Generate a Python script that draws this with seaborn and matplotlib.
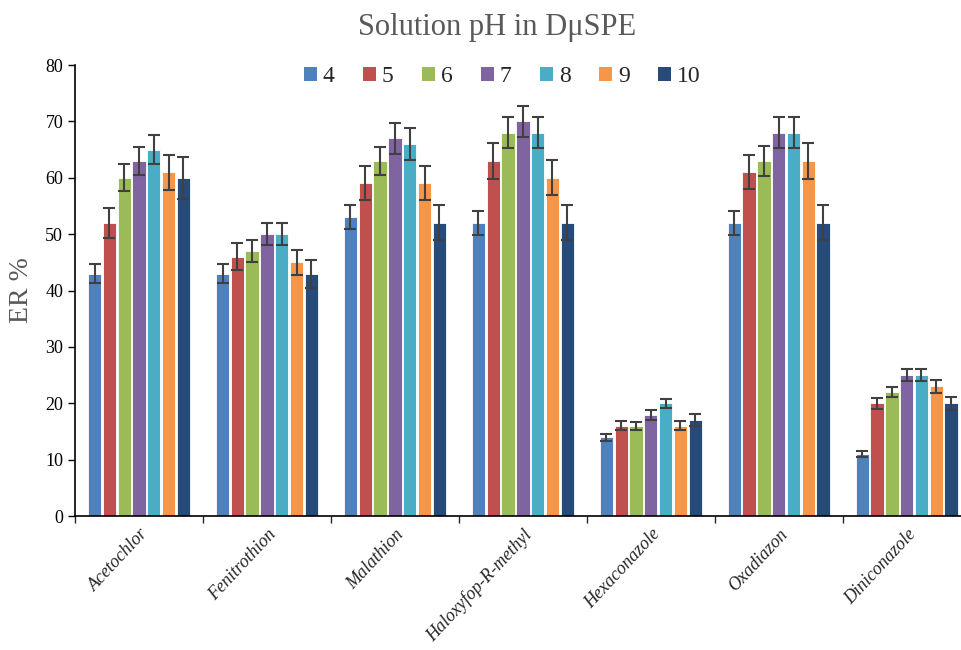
import numpy as np
import pandas as pd
import matplotlib
matplotlib.use("Agg")
import matplotlib.pyplot as plt
from matplotlib.patches import Patch
import seaborn as sns

compounds = ["Acetochlor", "Fenitrothion", "Malathion", "Haloxyfop-R-methyl",
             "Hexaconazole", "Oxadiazon", "Diniconazole"]
ph_levels = ["4", "5", "6", "7", "8", "9", "10"]

er_ph4 = [43, 43, 53, 52, 14, 52, 11]
er_ph5 = [52, 46, 59, 63, 16, 61, 20]
er_ph6 = [60, 47, 63, 68, 16, 63, 22]
er_ph7 = [63, 50, 67, 70, 18, 68, 25]
er_ph8 = [65, 50, 66, 68, 20, 68, 25]
er_ph9 = [61, 45, 59, 60, 16, 63, 23]
er_ph10 = [60, 43, 52, 52, 17, 52, 20]

sd_ph4 = [1.7, 1.7, 2.1, 2.1, 0.6, 2.1, 0.5]
sd_ph5 = [2.6, 2.4, 3.0, 3.2, 0.8, 3.0, 1.0]
sd_ph6 = [2.4, 1.9, 2.5, 2.7, 0.7, 2.6, 0.9]
sd_ph7 = [2.5, 2.0, 2.7, 2.8, 0.9, 2.7, 1.0]
sd_ph8 = [2.6, 2.0, 2.8, 2.7, 0.8, 2.7, 1.0]
sd_ph9 = [3.1, 2.2, 3.0, 3.1, 0.8, 3.2, 1.1]
sd_ph10 = [3.7, 2.5, 3.1, 3.1, 1.1, 3.1, 1.1]

colors = ["#4F81BD", "#C0504D", "#9BBB59", "#8064A2", "#4BACC6", "#F79646", "#264B78"]

values = [er_ph4, er_ph5, er_ph6, er_ph7, er_ph8, er_ph9, er_ph10]
errors = [sd_ph4, sd_ph5, sd_ph6, sd_ph7, sd_ph8, sd_ph9, sd_ph10]

rows = []
for ph, vals, errs in zip(ph_levels, values, errors):
    for c, v, e in zip(compounds, vals, errs):
        rows.append({"Compound": c, "pH": ph, "ER": v, "SD": e})
df = pd.DataFrame(rows)

sns.set_style("white")
plt.rcParams["font.family"] = ["Liberation Serif", "DejaVu Serif"]

fig = plt.figure(figsize=(9.62, 6.5), dpi=100)
ax = fig.add_axes([0.078, 0.206, 0.931, 0.694])

sns.barplot(data=df, x="Compound", y="ER", hue="pH", order=compounds,
            hue_order=ph_levels, palette=colors, saturation=1, errorbar=None,
            width=0.81, gap=0.1, edgecolor="white", linewidth=0.6, ax=ax,
            legend=False)

# error bars at the centers of the drawn bars
for container, ph in zip(ax.containers, ph_levels):
    sub = df[df["pH"] == ph].set_index("Compound").loc[compounds]
    xs = [p.get_x() + p.get_width() / 2 for p in container.patches]
    hs = [p.get_height() for p in container.patches]
    ax.errorbar(xs, hs, yerr=sub["SD"].values, fmt="none", ecolor="#404040",
                elinewidth=1.5, capsize=4, capthick=1.5, zorder=5)

ax.set_xlim(-0.5, 6.5)
ax.set_ylim(0, 80)
ax.set_yticks(np.arange(0, 81, 10))
ax.tick_params(axis="y", direction="out", length=5, width=1, left=True,
               labelsize=13, colors="black")
ax.set_xticks(np.arange(len(compounds)))
ax.set_xticklabels(compounds, rotation=47, ha="right", rotation_mode="anchor",
                   fontstyle="italic", fontsize=13)
ax.set_xticks(np.arange(-0.5, 6.5, 1), minor=True)
ax.tick_params(axis="x", which="major", length=0, pad=7)
ax.tick_params(axis="x", which="minor", direction="out", length=5, width=1, bottom=True)

for s in ["top", "right"]:
    ax.spines[s].set_visible(False)
for s in ["left", "bottom"]:
    ax.spines[s].set_color("black")
    ax.spines[s].set_linewidth(1.2)

ax.set_xlabel("")
ax.set_ylabel("ER %", fontsize=20, color="#595959", labelpad=8)

handles = [Patch(facecolor=c, edgecolor="none") for c in colors]
fig.legend(handles, ph_levels, loc="center", bbox_to_anchor=(0.522, 0.882),
           ncol=7, frameon=False, fontsize=17, handlelength=0.55, handleheight=0.55,
           handletextpad=0.25, columnspacing=1.2)

fig.text(0.517, 0.957, "Solution pH in DμSPE", ha="center", va="center",
         fontsize=22, color="#595959")

fig.savefig("out.png", dpi=100)
